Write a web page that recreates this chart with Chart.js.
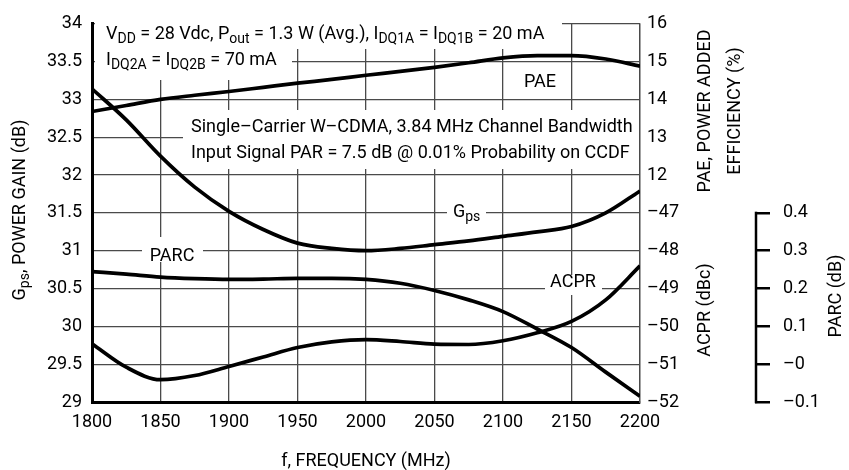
<!DOCTYPE html>
<html><head><meta charset="utf-8">
<script src="https://cdn.jsdelivr.net/npm/chart.js@4"></script>
<style>html,body{margin:0;padding:0;background:#fff}#wrap{width:849px;height:470px}</style>
</head><body><div id="wrap"><canvas id="c" width="849" height="470"></canvas></div>
<script>
// ---- data ----
const frequencies = [1800,1825,1850,1875,1900,1925,1950,1975,2000,2025,2050,2075,2100,2125,2150,2175,2200];
const gpsValues  = [33.14,32.73,32.25,31.84,31.52,31.28,31.10,31.03,31.00,31.03,31.08,31.13,31.19,31.25,31.32,31.50,31.79];
const paeValues  = [13.68,13.84,14.00,14.11,14.21,14.32,14.43,14.53,14.64,14.74,14.85,14.97,15.10,15.16,15.16,15.07,14.88];
const acprValues = [-50.46,-51.08,-51.41,-51.30,-51.06,-50.81,-50.56,-50.41,-50.35,-50.40,-50.47,-50.48,-50.38,-50.17,-49.87,-49.30,-48.40];
const parcValues = [0.245,0.238,0.230,0.226,0.224,0.225,0.227,0.227,0.224,0.214,0.195,0.170,0.139,0.093,0.044,-0.021,-0.085];
const frequencyTicks = [1800,1850,1900,1950,2000,2050,2100,2150,2200];
const gainTickLabels = ['29','29.5','30','30.5','31','31.5','32','32.5','33','33.5','34'];
const rightTickLabels = ['–52','–51','–50','–49','–48','–47','12','13','14','15','16'];
const parcTickLabels = ['–0.1','–0','0.1','0.2','0.3','0.4'];

const FONT = "Roboto,'Liberation Sans',sans-serif";
const FS = 18, SUB = 14;
const GRID = '#4a4a4a';

function pts(vals){ return frequencies.map((f,i)=>({x:f,y:vals[i]})); }

function richWidth(ctx, s){
  let w=0; const parts = s.split(/(_\{[^}]*\})/);
  for(const p of parts){ if(!p) continue;
    if(p.startsWith('_{')){ ctx.font = SUB+'px '+FONT; w+=ctx.measureText(p.slice(2,-1)).width; }
    else { ctx.font = FS+'px '+FONT; w+=ctx.measureText(p).width; } }
  return w;
}
function rich(ctx, s, x, y, align){
  let cx = x; if(align==='center') cx = x - richWidth(ctx,s)/2;
  const parts = s.split(/(_\{[^}]*\})/);
  ctx.fillStyle='#000'; ctx.textBaseline='alphabetic'; ctx.textAlign='left';
  for(const p of parts){ if(!p) continue;
    if(p.startsWith('_{')){ ctx.font = SUB+'px '+FONT; const t=p.slice(2,-1); ctx.fillText(t,cx,y+4); cx+=ctx.measureText(t).width; }
    else { ctx.font = FS+'px '+FONT; ctx.fillText(p,cx,y); cx+=ctx.measureText(p).width; } }
}

const decor = {
  id:'decor',
  beforeDatasetsDraw(chart){
    const ctx = chart.ctx; ctx.save();
    ctx.fillStyle='#fff';
    const boxes = [[95,18,467,31],[95,49,197,31],[183,110,456,59],[142,237,61,25],[447,200,39,22],[545,275,57,20]];
    for(const b of boxes) ctx.fillRect(b[0],b[1],b[2],b[3]);
    rich(ctx,'V_{DD} = 28 Vdc, P_{out} = 1.3 W (Avg.), I_{DQ1A} = I_{DQ1B} = 20 mA',106,39);
    rich(ctx,'I_{DQ2A} = I_{DQ2B} = 70 mA',106,65);
    rich(ctx,'Single–Carrier W–CDMA, 3.84 MHz Channel Bandwidth',191,132);
    rich(ctx,'Input Signal PAR = 7.5 dB @ 0.01% Probability on CCDF',191,158);
    rich(ctx,'PAE',540,87,'center');
    rich(ctx,'PARC',172,261,'center');
    rich(ctx,'G_{ps}',453,217);
    rich(ctx,'ACPR',573,287,'center');
    ctx.restore();
  },
  afterDraw(chart){
    const ctx = chart.ctx; ctx.save();
    const ps = chart.scales.yParc;
    ctx.strokeStyle='#000'; ctx.lineWidth=2.5;
    ctx.beginPath(); ctx.moveTo(ps.left+1, ps.getPixelForValue(0.4)-1.2); ctx.lineTo(ps.left+1, ps.getPixelForValue(-0.1)+1.2); ctx.stroke();
    const vt = (s,x,y)=>{ ctx.save(); ctx.translate(x,y); ctx.rotate(-Math.PI/2); rich(ctx,s,0,0,'center'); ctx.restore(); };
    vt('G_{ps}, POWER GAIN (dB)',25,210);
    vt('PAE, POWER ADDED',710,111);
    vt('EFFICIENCY (%)',740,111);
    vt('ACPR (dBc)',710,310);
    vt('PARC (dB)',841,296);
    rich(ctx,'f, FREQUENCY (MHz)',366,466,'center');
    ctx.restore();
  }
};

const tickFont = {family:FONT,size:FS};
new Chart(document.getElementById('c'),{
  type:'line',
  data:{datasets:[
    {label:'Gps',data:pts(gpsValues),yAxisID:'y'},
    {label:'PAE',data:pts(paeValues),yAxisID:'yPae'},
    {label:'ACPR',data:pts(acprValues),yAxisID:'yAcpr'},
    {label:'PARC',data:pts(parcValues),yAxisID:'yParc'}
  ].map(d=>Object.assign(d,{borderColor:'#000',borderWidth:3.7,pointRadius:0,cubicInterpolationMode:'monotone',fill:false}))},
  options:{
    responsive:false,animation:false,
    layout:{padding:{top:17,left:0,right:0,bottom:0}},
    plugins:{legend:{display:false},tooltip:{enabled:false}},
    scales:{
      x:{type:'linear',min:1800,max:2200,
        afterBuildTicks:s=>{s.ticks=frequencyTicks.map(v=>({value:v}));},
        afterFit:s=>{s.height=68;},
        ticks:{font:tickFont,color:'#000',padding:10,maxRotation:0,callback:v=>String(v)},
        grid:{color:GRID,lineWidth:1.3,drawTicks:false},
        border:{color:'#000',width:3}},
      y:{position:'left',min:29,max:34,
        afterBuildTicks:s=>{s.ticks=gainTickLabels.map(t=>({value:parseFloat(t)}));},
        afterFit:s=>{s.width=92;},
        ticks:{font:tickFont,color:'#000',padding:10,callback:(v,i)=>gainTickLabels[i]},
        grid:{color:GRID,lineWidth:1.3,drawTicks:false},
        border:{color:'#000',width:3}},
      yPae:{position:'right',min:6,max:16,weight:0,
        afterBuildTicks:s=>{s.ticks=rightTickLabels.map((t,i)=>({value:6+i}));},
        afterFit:s=>{s.width=115;},
        ticks:{font:tickFont,color:'#000',padding:7,callback:(v,i)=>rightTickLabels[i]},
        grid:{drawOnChartArea:false,drawTicks:false},
        border:{color:GRID,width:1.3}},
      yAcpr:{display:false,min:-52,max:-42},
      yParc:{position:'right',min:-0.1,max:0.9,weight:1,
        afterBuildTicks:s=>{s.ticks=parcTickLabels.map((t,i)=>({value:-0.1+0.1*i}));},
        afterFit:s=>{s.width=94;},
        ticks:{font:tickFont,color:'#000',padding:13,callback:(v,i)=>parcTickLabels[i]},
        grid:{drawOnChartArea:false,drawTicks:true,tickLength:15,color:'#000',lineWidth:2.5},
        border:{display:false}}
    }
  },
  plugins:[decor]
});
</script></body></html>
